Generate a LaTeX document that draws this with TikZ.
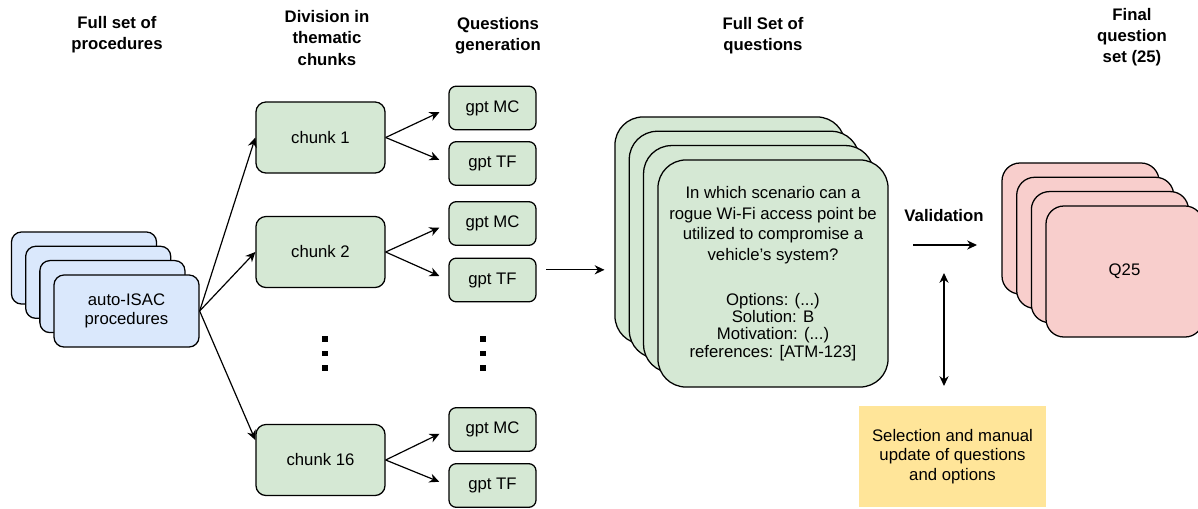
\documentclass[tikz,border=0pt]{standalone}
\usepackage{fontspec}
\setmainfont{Liberation Sans}
\usetikzlibrary{arrows.meta,positioning}

\definecolor{procblue}{HTML}{DAE8FC}
\definecolor{chunkgreen}{HTML}{D5E8D4}
\definecolor{finalred}{HTML}{F8CECC}
\definecolor{manualyellow}{HTML}{FFE599}

\tikzset{
  txt/.style={font=\fontsize{11.9}{14}\selectfont, align=center, inner sep=0pt},
  header/.style={txt, font=\fontsize{11.9}{15}\selectfont\bfseries},
  box/.style={txt, draw, line width=0.9pt},
  proccard/.style={box, fill=procblue, minimum width=3.625cm, minimum height=1.8cm, rounded corners=0.25cm},
  chunkbox/.style={box, fill=chunkgreen, minimum width=3.225cm, minimum height=1.775cm, rounded corners=0.25cm},
  gptbox/.style={box, fill=chunkgreen, minimum width=2.175cm, minimum height=1.09cm, rounded corners=0.18cm},
  qcard/.style={box, fill=chunkgreen, minimum width=5.75cm, minimum height=5.675cm, rounded corners=0.7cm},
  finalcard/.style={box, fill=finalred, minimum width=3.925cm, minimum height=3.275cm, rounded corners=0.45cm},
  arrow/.style={-{Stealth[length=7pt,width=6.5pt]}, line width=0.85pt},
}

\begin{document}
\begin{tikzpicture}[x=0.025cm, y=-0.025cm]
\useasboundingbox (0,0) rectangle (1198,508);

% Headers
\node[header] (hdrproc) at (117,35) {Full set of\\procedures};
\node[header] (hdrchunk) at (327,38) {Division in\\thematic\\chunks};
\node[header] (hdrgen) at (498,36) {Questions\\generation};
\node[header] (hdrset) at (763,36) {Full Set of\\questions};
\node[header] (hdrfinal) at (1132,37) {Final\\question\\set (25)};

% Procedures stack
\foreach \i in {0,1,2}
  \node[proccard] (proc\i) at ({84+14.2*\i},{268+14.3*\i}) {};
\node[proccard, font=\fontsize{11.9}{13}\selectfont] (proc) at (126.5,311) {auto-ISAC\\procedures};

% Chunks
\node[chunkbox] (c1) at (320.5,137.5) {chunk 1};
\node[chunkbox] (c2) at (320.5,252) {chunk 2};
\node[chunkbox] (c16) at (320.5,460) {chunk 16};

\draw[arrow] (proc.east) -- (c1.west);
\draw[arrow] (proc.east) -- (c2.west);
\draw[arrow] (proc.east) -- (c16.163);

% Generated questions
\node[gptbox] (mc1) at (492.5,108) {gpt MC};
\node[gptbox] (tf1) at (492.5,163.5) {gpt TF};
\node[gptbox] (mc2) at (492.5,223.5) {gpt MC};
\node[gptbox] (tf2) at (492.5,280) {gpt TF};
\node[gptbox] (mc16) at (492.5,429.5) {gpt MC};
\node[gptbox] (tf16) at (492.5,485.5) {gpt TF};

\foreach \c/\m/\t in {c1/mc1/tf1, c2/mc2/tf2, c16/mc16/tf16} {
  \draw[arrow, shorten >=7] (\c.east) -- (\m.west);
  \draw[arrow, shorten >=7] (\c.east) -- (\t.west);
}

% Dots
\foreach \x in {325,483}
  \foreach \y in {339,353.5,368}
    \fill (\x-2.6,\y-2.6) rectangle (\x+2.6,\y+2.6);

% Full set of questions
\foreach \i in {0,1,2}
  \node[qcard] (q\i) at ({730+14.3*\i},{230.5+14.3*\i}) {};
\node[qcard, font=\fontsize{11.9}{14.7}\selectfont] (q) at (773,273.5) {In which scenario can a\\rogue Wi-Fi access point be\\utilized to compromise a\\vehicle's system?\\[17pt]Options: (...)\\[-2.4pt]Solution: B\\[-2.4pt]Motivation: (...)\\[-2.4pt]references: [ATM-123]};

\draw[arrow, shorten <=7, shorten >=7] (tf2.13) -- (tf2.13 -| q0.west);

% Validation
\node[header] (val) at (944,216) {Validation};
\coordinate (valL) at (913,245);
\coordinate (valR) at (977,245);
\draw[arrow] (valL) -- (valR);

\node[txt, fill=manualyellow, minimum width=4.675cm, minimum height=2.525cm] (manual) at (952.5,456.5) {Selection and manual\\update of questions\\and options};
\coordinate (valtop) at (944,273);
\coordinate (valbot) at (944,386);
\draw[{Stealth[length=7pt,width=6.5pt]}-{Stealth[length=7pt,width=6.5pt]}, line width=0.85pt] (valtop) -- (valbot);

% Final question set
\foreach \i in {0,1,2}
  \node[finalcard] (f\i) at ({1080.5+14.7*\i},{228.5+14.3*\i}) {};
\node[finalcard] (f) at (1124.5,271.5) {Q25};
\end{tikzpicture}
\end{document}
